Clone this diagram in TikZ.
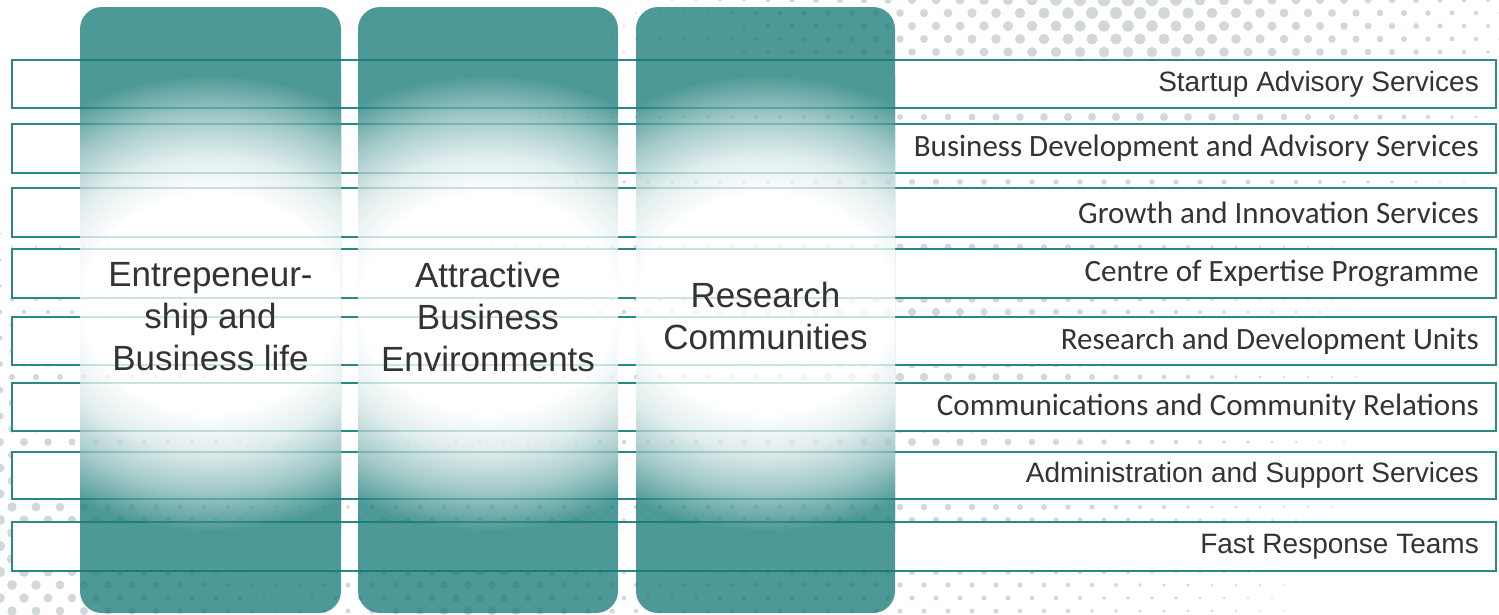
\documentclass[tikz,border=0pt]{standalone}
\usepackage{fontspec}
\setmainfont{Liberation Sans}
\newfontfamily\calfont{Carlito}

\definecolor{colteal}{HTML}{187B78}
\definecolor{barline}{HTML}{2A8A83}
\definecolor{dotgray}{HTML}{D2D7D7}
\definecolor{txt}{HTML}{333333}

% soft white glow fading into teal (25bp = edge of the glow)
\pgfdeclareradialshading{glow}{\pgfpoint{0bp}{0bp}}{%
  color(0bp)=(white); color(12bp)=(white);
  color(16bp)=(colteal!16!white); color(20.5bp)=(colteal!52!white);
  color(25bp)=(colteal); color(50bp)=(colteal)}

\tikzset{
  barbox/.style={draw=barline, line width=2pt, fill=white,
    minimum width=1484pt, inner sep=0pt, outer sep=0pt},
  arialtag/.style={anchor=east, inner sep=0pt, text=txt,
    font=\fontsize{28}{32}\selectfont},
  calitag/.style={anchor=east, inner sep=0pt, text=txt,
    font=\calfont\fontsize{31}{34}\selectfont},
  coltext/.style={align=center, text=txt, inner sep=0pt,
    font=\fontsize{35}{42}\selectfont},
}

\newcommand\pillar[2]{% left, right
  \begin{scope}[opacity=0.77, transparency group]
    \clip[rounded corners=22pt] (#1,7) rectangle (#2,613);
    \fill[colteal] (#1,7) rectangle (#2,613);
    \pgfmathsetmacro\cx{(#1+#2)/2}
    \shade[shading=glow] (\cx-265,303-228) rectangle (\cx+265,303+228);
  \end{scope}}

\begin{document}
\begin{tikzpicture}[x=1pt, y=-1pt]
  \useasboundingbox (0,0) rectangle (1499,614);
  \fill[white] (0,0) rectangle (1499,614);

  % halftone dot field in the background
  \foreach \j in {0,...,47}{
    \foreach \i in {0,...,63}{
      \pgfmathsetmacro\px{\i*24+mod(\j,2)*12}
      \pgfmathsetmacro\py{\j*13}
      \pgfmathsetmacro\ra{6.5*(1-100*veclen((\px-1120)/100,(\py+10)*1.6/100)/540)}
      \pgfmathsetmacro\rb{5.5*(1-100*veclen((\px+20)/100,(\py-560)/100)/420)}
      \pgfmathsetmacro\rc{4.5*(1-100*veclen((\px-480)/100,(\py-620)/100)/300)}
      \pgfmathsetmacro\rd{4.5*(1-100*veclen((\px-900)/100,(\py-360)/100)/560)}
      \pgfmathsetmacro\rr{max(\ra,\rb,\rc,\rd)}
      \ifdim\rr pt>0.8pt
        \fill[dotgray] (\px,\py) circle[radius=\rr];
      \fi
    }
  }

  % service bars
  \foreach \t/\b/\n in {60/108/1,124/173/2,188/237/3,249/298/4,
                        317/365/5,383/431/6,452/499/7,522/571/8}{
    \node[barbox, minimum height={\b-\t}] (bar\n) at (754,{(\t+\b)/2}) {};
  }

  \node[arialtag] (lab1) at ([xshift=-17pt]bar1.east) {Startup Advisory Services};
  \node[calitag]  (lab2) at ([xshift=-17pt]bar2.east) {Business Development and Advisory Services};
  \node[calitag]  (lab3) at ([xshift=-17pt]bar3.east) {Growth and Innovation Services};
  \node[calitag]  (lab4) at ([xshift=-17pt]bar4.east) {Centre of Expertise Programme};
  \node[calitag]  (lab5) at ([xshift=-17pt]bar5.east) {Research and Development Units};
  \node[calitag]  (lab6) at ([xshift=-17pt]bar6.east) {Communications and Community Relations};
  \node[arialtag] (lab7) at ([xshift=-17pt]bar7.east) {Administration and Support Services};
  \node[arialtag] (lab8) at ([xshift=-17pt]bar8.east) {Fast Response Teams};

  % the three pillars laid over the bars
  \pillar{80}{341}
  \pillar{358}{618}
  \pillar{636}{895}

  \node[coltext] (col1) at (210.5,317) {Entrepeneur-\\ship and\\Business life};
  \node[coltext] (col2) at (488,317) {Attractive\\Business\\Environments};
  \node[coltext] (col3) at (765.5,316) {Research\\Communities};
\end{tikzpicture}
\end{document}
